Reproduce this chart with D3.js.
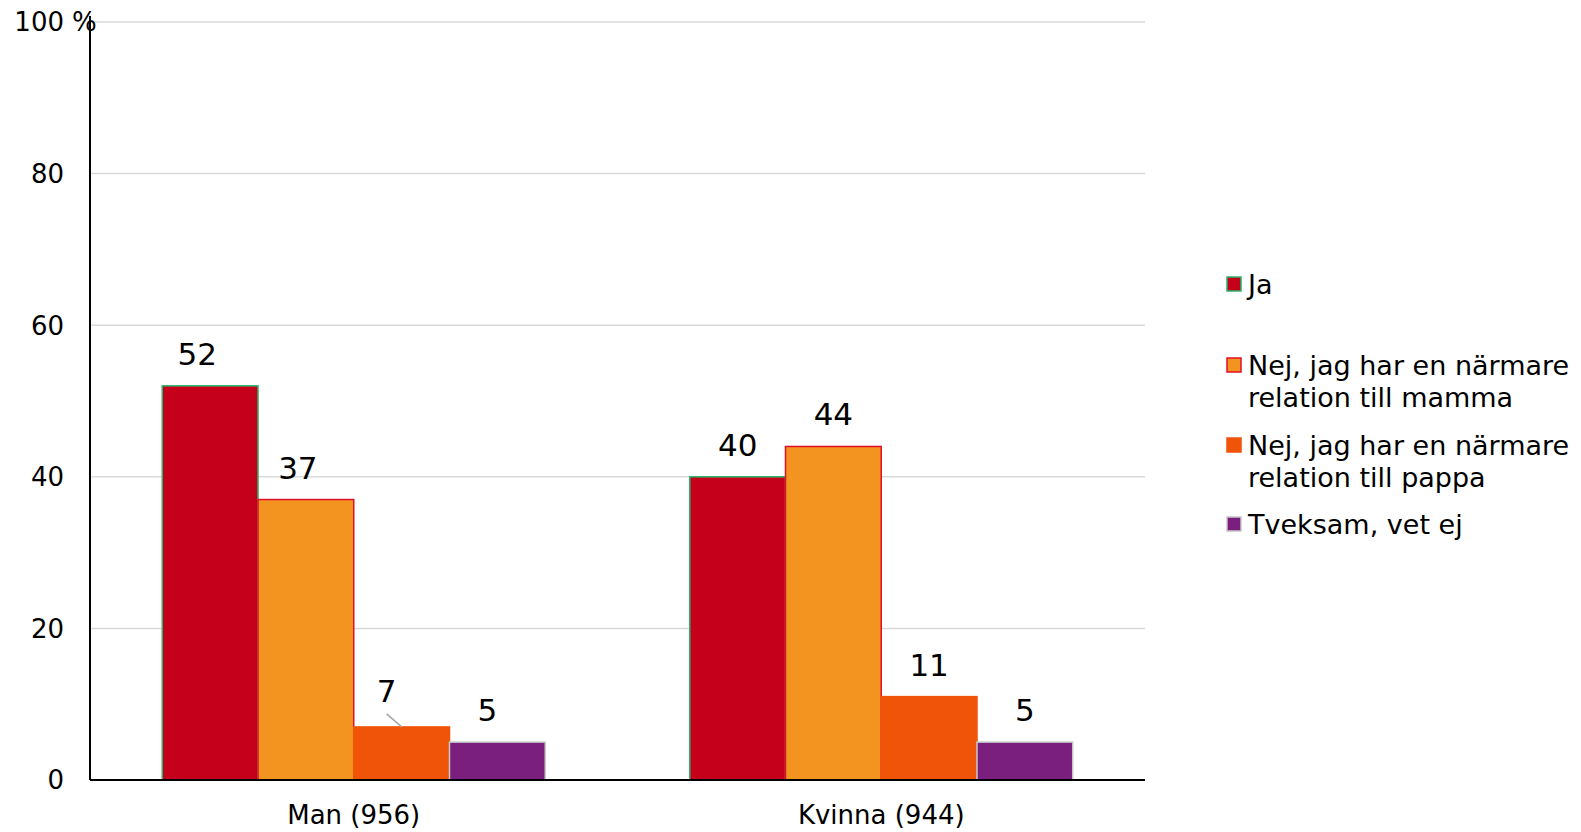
<!DOCTYPE html>
<html>
<head>
<meta charset="utf-8">
<script src="https://cdn.jsdelivr.net/npm/d3@7"></script>
<style>
  body { margin: 0; background: #fff; }
  text { font-family: "DejaVu Sans", Verdana, sans-serif; fill: #000; }
</style>
</head>
<body>
<svg id="chart" width="1581" height="832"></svg>
<script>
// categories and series
const categories = ["Man (956)", "Kvinna (944)"];
const series = [
  "Ja",
  "Nej, jag har en närmare relation till mamma",
  "Nej, jag har en närmare relation till pappa",
  "Tveksam, vet ej"
];
const values = [
  [52, 37, 7, 5],   // Man
  [40, 44, 11, 5]   // Kvinna
];
const yTicks = [0, 20, 40, 60, 80, 100];
const legendLines = [
  ["Ja"],
  ["Nej, jag har en närmare", "relation till mamma"],
  ["Nej, jag har en närmare", "relation till pappa"],
  ["Tveksam, vet ej"]
];

const fills   = ["#c5001a", "#f39320", "#f05408", "#7b1f7e"];
const strokes = ["#2bb36a", "#e0102a", "#f05408", "#c8c8c8"];

const svg = d3.select("#chart");
const margin = {left: 90, right: 436, top: 22, bottom: 52};
const width  = 1581;
const height = 832;

const x = d3.scaleBand()
  .domain(categories)
  .range([margin.left, width - margin.right]);

const xInner = d3.scaleBand()
  .domain(d3.range(series.length))
  .range([0, x.bandwidth() * 0.726]);

const y = d3.scaleLinear()
  .domain([0, 100])
  .range([height - margin.bottom, margin.top]);

// gridlines
svg.append("g")
  .selectAll("line")
  .data(yTicks.filter(d => d > 0))
  .join("line")
  .attr("x1", margin.left)
  .attr("x2", width - margin.right)
  .attr("y1", d => y(d))
  .attr("y2", d => y(d))
  .attr("stroke", "#d9d9d9")
  .attr("stroke-width", 1.5);

// y tick labels
svg.append("g")
  .selectAll("text")
  .data(yTicks)
  .join("text")
  .attr("x", 64)
  .attr("y", d => y(d))
  .attr("dy", "0.36em")
  .attr("text-anchor", "end")
  .attr("font-size", 26)
  .text(d => d);

svg.append("text")
  .attr("x", 72)
  .attr("y", y(100))
  .attr("dy", "0.36em")
  .attr("font-size", 26)
  .text("%");

// bars
const groups = svg.append("g")
  .selectAll("g")
  .data(categories)
  .join("g")
  .attr("transform", d => `translate(${x(d) + (x.bandwidth() - xInner.range()[1]) / 2},0)`);

groups.selectAll("rect")
  .data((d, i) => values[i].map((v, j) => ({v, j})))
  .join("rect")
  .attr("x", d => xInner(d.j))
  .attr("width", xInner.bandwidth())
  .attr("y", d => y(d.v))
  .attr("height", d => y(0) - y(d.v))
  .attr("fill", d => fills[d.j])
  .attr("stroke", d => strokes[d.j])
  .attr("stroke-width", 1.5);

// value labels (Man group labels sit a bit left of center)
const labelShift = [[-13, -8, -15, -10], [0, 0, 0, 0]];
groups.each(function(c, i) {
  const g = d3.select(this);
  values[i].forEach((v, j) => {
    const cx = xInner(j) + xInner.bandwidth() / 2 + labelShift[i][j];
    const ty = y(v) - 21;
    if (i === 0 && j === 2) {
      g.append("line")
        .attr("x1", cx)
        .attr("y1", y(v) - 13)
        .attr("x2", cx + 15)
        .attr("y2", y(v))
        .attr("stroke", "#a6a6a6")
        .attr("stroke-width", 1.5);
    }
    g.append("text")
      .attr("x", cx)
      .attr("y", i === 0 && j === 2 ? ty - 4 : ty)
      .attr("text-anchor", "middle")
      .attr("font-size", 31)
      .text(v);
  });
});

// axes lines
svg.append("line")
  .attr("x1", margin.left).attr("x2", margin.left)
  .attr("y1", margin.top - 6).attr("y2", y(0))
  .attr("stroke", "#000").attr("stroke-width", 2);
svg.append("line")
  .attr("x1", margin.left).attr("x2", width - margin.right)
  .attr("y1", y(0)).attr("y2", y(0))
  .attr("stroke", "#000").attr("stroke-width", 2);

// category labels
svg.append("g")
  .selectAll("text")
  .data(categories)
  .join("text")
  .attr("x", d => x(d) + x.bandwidth() / 2)
  .attr("y", 824)
  .attr("text-anchor", "middle")
  .attr("font-size", 26)
  .text(d => d);

// legend
const legendY = [284, 365, 445, 524];
const legend = svg.append("g")
  .selectAll("g")
  .data(series)
  .join("g")
  .attr("transform", (d, i) => `translate(1227,${legendY[i]})`);

legend.append("rect")
  .attr("x", 0)
  .attr("y", -7)
  .attr("width", 14)
  .attr("height", 14)
  .attr("fill", (d, i) => fills[i])
  .attr("stroke", (d, i) => strokes[i])
  .attr("stroke-width", 1.5);

legend.append("text")
  .attr("x", 21)
  .attr("y", 0)
  .attr("font-size", 27)
  .selectAll("tspan")
  .data((d, i) => legendLines[i])
  .join("tspan")
  .attr("x", 21)
  .attr("dy", (d, k) => k === 0 ? "0.36em" : 32)
  .text(d => d);
</script>
</body>
</html>
